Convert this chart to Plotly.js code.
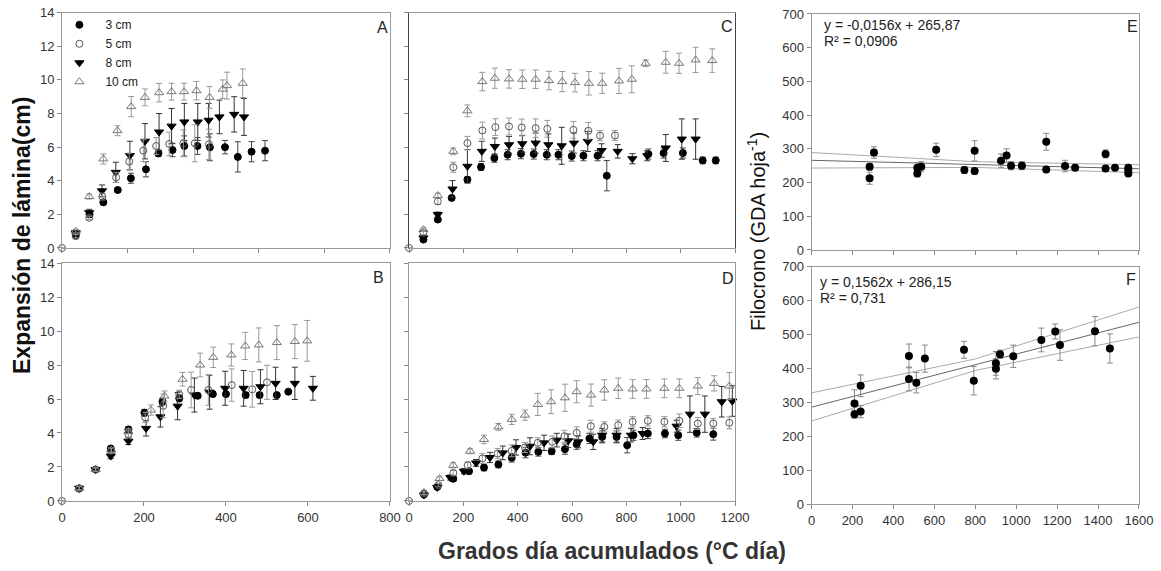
<!DOCTYPE html>
<html><head><meta charset="utf-8">
<script src="https://cdn.plot.ly/plotly-3.0.1.min.js"></script>
<style>html,body{margin:0;padding:0;background:#fff}#chart{width:1161px;height:571px}</style>
</head><body><div id="chart"></div>
<script>
// ---------- Panel A ----------
const A_x3=[42,84,126,170,210,256,294,337,373,413,451,497,536,578,619];
const A_y3=[0.77,2.0,2.72,3.45,4.15,4.68,5.63,5.83,6.07,6.07,5.99,6.0,5.42,5.73,5.79];
const A_e3=[0.1,0.15,0.15,0.15,0.3,0.45,0.2,0.4,0.6,0.5,0.8,0.4,0.9,0.6,0.6];
const A_x5=[0,42,83,123,165,205,248,287,327,370,405,448];
const A_y5=[0,0.7,1.8,3.06,4.2,5.14,5.79,6.07,6.19,6.23,6.23,6.17];
const A_e5=[0,0.1,0.1,0.2,0.3,0.5,0.65,0.5,0.7,0.8,1.1,0.9];
const A_x8=[42,83,122,164,207,253,296,334,373,414,447,480,525,555];
const A_y8=[0.9,2.1,3.4,4.5,5.5,6.35,6.9,7.25,7.5,7.5,7.6,7.8,7.95,7.8];
const A_e8=[0.1,0.2,0.35,0.6,0.85,1.05,1.1,1.05,1.1,1.1,1.0,1.0,1.05,1.1];
const A_x10=[42,83,126,169,211,253,296,334,372,410,450,490,503,551];
const A_y10=[1.0,3.06,5.3,6.98,8.41,8.96,9.24,9.3,9.3,9.36,8.96,9.45,9.66,9.8];
const A_e10=[0.1,0.15,0.3,0.3,0.6,0.5,0.55,0.5,0.5,0.55,0.65,0.55,0.8,0.85];
// ---------- Panel B ----------
const B_x3=[42,82,119,162,201,245,286,331,368,400,448,482,524,552];
const B_y3=[0.73,1.85,3.09,4.21,5.19,5.84,6.04,6.19,6.29,6.29,6.23,6.23,6.23,6.43];
const B_e3=[0.1,0.1,0.12,0.15,0.2,0.2,0.2,0.15,0.15,0.15,0.15,0.15,0.15,0.1];
const B_x5=[0,42,82,120,162,203,247,286,315,357,414,464,500];
const B_y5=[0,0.75,1.85,2.95,3.93,4.92,5.6,6.27,6.53,6.53,6.82,6.57,6.98];
const B_e5=[0,0.1,0.1,0.15,0.2,0.3,0.7,0.25,1.05,0.9,0.95,1.05,1.0];
const B_x8=[42,82,119,162,205,240,282,323,360,398,443,484,521,568,612];
const B_y8=[0.75,1.85,2.64,3.52,4.27,4.95,5.58,6.23,6.4,6.63,6.63,6.72,6.92,6.92,6.63];
const B_e8=[0.1,0.1,0.15,0.2,0.45,0.6,0.8,1.0,1.0,1.0,1.05,1.0,0.95,0.95,0.7];
const B_x10=[42,82,120,162,217,250,294,337,369,413,447,480,524,568,598];
const B_y10=[0.75,1.85,3.0,4.1,5.35,6.17,7.16,8.0,8.45,8.59,9.12,9.18,9.32,9.38,9.42];
const B_e10=[0.1,0.1,0.15,0.15,0.3,0.3,0.4,0.7,0.6,0.65,0.8,1.0,1.0,1.0,1.2];
// ---------- Panel C ----------
const C_x3=[53,106,157,215,265,314,363,412,459,507,550,599,642,694,728,881,937,1008,1081,1129];
const C_y3=[0.5,1.69,2.98,4.07,4.82,5.35,5.55,5.61,5.59,5.55,5.55,5.47,5.49,5.49,4.3,5.59,5.65,5.65,5.21,5.21];
const C_e3=[0.1,0.1,0.1,0.15,0.2,0.25,0.3,0.3,0.3,0.3,0.3,0.3,0.3,0.3,0.9,0.3,0.3,0.3,0.2,0.2];
const C_x5=[0,53,106,163,215,270,318,368,415,466,509,605,660,703,758];
const C_y5=[0,0.9,2.78,4.8,6.24,6.99,7.19,7.23,7.17,7.13,7.09,7.03,6.97,6.68,6.69];
const C_e5=[0,0.1,0.2,0.3,0.4,0.5,0.5,0.5,0.5,0.55,0.5,0.5,0.5,0.3,0.3];
const C_x8=[53,106,160,215,268,316,368,417,466,513,562,607,658,709,768,822,877,945,1004,1055];
const C_y8=[0.6,1.99,3.51,4.86,5.75,6.04,6.14,6.2,6.24,6.14,6.08,6.24,6.34,5.8,5.75,5.31,5.49,5.95,6.48,6.48];
const C_e8=[0.1,0.15,0.5,1.0,0.6,0.5,0.5,0.5,0.6,0.65,1.1,0.6,0.6,0.4,0.4,0.3,0.3,0.8,1.2,1.2];
const C_x10=[53,106,163,215,270,316,368,417,466,515,564,611,662,711,773,820,871,945,994,1055,1116];
const C_y10=[1.1,3.12,5.75,8.16,9.9,10.1,10.06,10.04,10.04,9.96,9.9,9.84,9.8,9.8,9.94,10.04,10.99,11.05,10.99,11.19,11.15];
const C_e10=[0.1,0.15,0.2,0.35,0.55,0.6,0.55,0.55,0.55,0.55,0.6,0.55,0.7,0.6,0.75,0.8,0.2,0.65,0.6,0.75,0.7];
// ---------- Panel D ----------
const D_x3=[55,104,163,221,276,329,378,429,476,525,574,617,664,711,764,803,826,879,942,991,1059,1120];
const D_y3=[0.38,0.83,1.31,1.75,1.97,2.15,2.54,2.84,2.89,2.93,3.05,3.34,3.68,3.77,3.77,3.28,3.87,3.97,3.97,3.87,4.01,3.93];
const D_e3=[0.1,0.1,0.15,0.15,0.2,0.2,0.25,0.3,0.25,0.2,0.3,0.3,0.3,0.35,0.35,0.45,0.3,0.3,0.25,0.3,0.25,0.35];
const D_x5=[0,55,108,163,216,270,326,378,427,474,527,572,617,669,719,770,823,879,940,995,1063,1120,1179];
const D_y5=[0,0.45,0.93,1.65,2.1,2.5,2.79,2.95,3.15,3.42,3.48,3.81,4.01,4.4,4.36,4.46,4.66,4.72,4.66,4.72,4.56,4.56,4.6];
const D_e5=[0,0.1,0.1,0.15,0.2,0.3,0.3,0.35,0.3,0.3,0.35,0.35,0.35,0.35,0.3,0.3,0.3,0.3,0.3,0.4,0.35,0.3,0.35];
const D_x8=[55,104,152,202,247,298,345,394,445,497,544,586,623,678,711,764,817,860,985,1034,1089,1151,1190];
const D_y8=[0.35,0.8,1.38,1.75,2.24,2.56,2.83,3.15,3.22,3.42,3.58,3.54,3.48,3.48,3.87,3.87,3.87,3.97,4.4,5.11,5.11,5.84,5.88];
const D_e8=[0.1,0.1,0.15,0.15,0.2,0.3,0.4,0.45,0.5,0.45,0.4,0.4,0.35,0.45,0.4,0.4,0.4,0.35,0.35,1.07,1.07,0.9,0.9];
const D_x10=[55,112,163,225,276,329,378,427,474,523,574,617,670,719,770,823,874,940,995,1063,1123,1179];
const D_y10=[0.5,1.32,2.1,2.93,3.62,4.36,4.8,5.05,5.68,5.84,6.07,6.43,6.23,6.53,6.63,6.59,6.59,6.63,6.63,6.76,6.92,6.76];
const D_e10=[0.1,0.1,0.15,0.15,0.25,0.2,0.3,0.3,0.65,0.7,0.8,0.65,0.65,0.6,0.6,0.55,0.55,0.55,0.55,0.5,0.45,0.8];
// ---------- Panel E ----------
const E_x=[284,284,305,517,517,536,609,747,797,797,926,953,975,1028,1147,1147,1239,1288,1437,1437,1483,1548,1548,1548];
const E_y=[247,213,289,227,244,247,297,237,294,234,265,280,250,250,321,239,249,244,285,242,244,244,227,235];
const E_e=[10,18,17,10,15,15,20,10,30,10,20,20,12,12,25,8,17,8,12,8,8,10,8,10];
const E_lineX=[0,1600], E_fit=[266,241];
const E_bandX=[0,800,1600], E_up=[289,262,253], E_lo=[243,245,229];
// ---------- Panel F ----------
const F_x=[210,210,240,240,476,476,512,554,745,793,901,901,921,986,1123,1191,1214,1385,1458];
const F_y=[297,265,349,273,437,369,358,429,455,364,415,399,442,436,484,509,469,510,459];
const F_e=[40,12,32,18,35,35,30,40,25,42,35,30,12,33,35,22,45,43,43];
const F_lineX=[0,1600], F_fit=[286,536];
const F_bandX=[0,800,1600], F_up=[328,428,581], F_lo=[245,394,493];

const seriesNames=['3 cm','5 cm','8 cm','10 cm'];
const FONT='Liberation Sans, Arial, sans-serif';

const styles={
  '3 cm':{symbol:'circle',size:7,color:'#000',line:{color:'#000',width:1},err:'#444'},
  '5 cm':{symbol:'circle-open',size:7,color:'#555',line:{color:'#555',width:1},err:'#999'},
  '8 cm':{symbol:'triangle-down',size:8,color:'#000',line:{color:'#000',width:1},err:'#333'},
  '10 cm':{symbol:'triangle-up-open',size:8,color:'#777',line:{color:'#777',width:1},err:'#999'}
};
function ser(name,x,y,e,ax,leg){
  const s=styles[name];
  return {type:'scatter',mode:'markers',name:name,x:x,y:y,xaxis:'x'+ax,yaxis:'y'+ax,
    showlegend:leg,cliponaxis:false,
    marker:{symbol:s.symbol,size:s.size,color:s.color,line:s.line},
    error_y:{type:'data',array:e,visible:true,color:s.err,thickness:1,width:3}};
}
const data=[];
const panels=[
 [A_x3,A_y3,A_e3,A_x5,A_y5,A_e5,A_x8,A_y8,A_e8,A_x10,A_y10,A_e10,''],
 [B_x3,B_y3,B_e3,B_x5,B_y5,B_e5,B_x8,B_y8,B_e8,B_x10,B_y10,B_e10,'2'],
 [C_x3,C_y3,C_e3,C_x5,C_y5,C_e5,C_x8,C_y8,C_e8,C_x10,C_y10,C_e10,'3'],
 [D_x3,D_y3,D_e3,D_x5,D_y5,D_e5,D_x8,D_y8,D_e8,D_x10,D_y10,D_e10,'4']
];
panels.forEach((p,i)=>{
  const leg=(i===0);
  data.push(ser('3 cm',p[0],p[1],p[2],p[12],leg));
  data.push(ser('8 cm',p[6],p[7],p[8],p[12],leg));
  data.push(ser('10 cm',p[9],p[10],p[11],p[12],leg));
  data.push(ser('5 cm',p[3],p[4],p[5],p[12],leg));
});
data.forEach(t=>{t.legendrank=seriesNames.indexOf(t.name)+1;});

function fitTraces(ax,lx,ly,bx,bu,bl,xs,ys,es){
  return [
    {type:'scatter',mode:'lines',x:bx,y:bu,xaxis:'x'+ax,yaxis:'y'+ax,showlegend:false,line:{color:'#aaa',width:1}},
    {type:'scatter',mode:'lines',x:bx,y:bl,xaxis:'x'+ax,yaxis:'y'+ax,showlegend:false,line:{color:'#aaa',width:1}},
    {type:'scatter',mode:'lines',x:lx,y:ly,xaxis:'x'+ax,yaxis:'y'+ax,showlegend:false,line:{color:'#666',width:1}},
    {type:'scatter',mode:'markers',x:xs,y:ys,xaxis:'x'+ax,yaxis:'y'+ax,showlegend:false,
     marker:{symbol:'circle',size:8,color:'#000'},
     error_y:{type:'data',array:es,visible:true,color:'#888',thickness:1,width:3}}
  ];
}
data.push(...fitTraces('5',E_lineX,E_fit,E_bandX,E_up,E_lo,E_x,E_y,E_e));
data.push(...fitTraces('6',F_lineX,F_fit,F_bandX,F_up,F_lo,F_x,F_y,F_e));

const tickFont={family:FONT,size:13,color:'#333'};
function xa(dom,range,labels,anchor){
  return {domain:dom,range:range,dtick:200,tick0:0,showticklabels:labels,anchor:anchor,
    showline:true,mirror:true,linecolor:'#999',linewidth:1,ticks:'outside',ticklen:4,tickcolor:'#888',
    showgrid:false,zeroline:false,tickfont:tickFont,fixedrange:true};
}
function ya(dom,range,dtick,labels,anchor,lc){
  return {domain:dom,range:range,dtick:dtick,tick0:0,showticklabels:labels,anchor:anchor,
    showline:true,mirror:true,linecolor:lc||'#999',linewidth:1,ticks:'outside',ticklen:4,tickcolor:'#888',
    showgrid:false,zeroline:false,tickfont:tickFont,fixedrange:true};
}
const colL=[0.0534,0.3359], colM=[0.3523,0.6331], colR=[0.699,0.981];
const rowT=[0.5657,0.9778], rowB=[0.1226,0.5394];
const rowTE=[0.5622,0.9755], rowBF=[0.117,0.533];

const ann=(t,x,y,o)=>Object.assign({text:t,x:x,y:y,xref:'paper',yref:'paper',showarrow:false,
  font:{family:FONT,size:16,color:'#222'}},o||{});
const layout={
  width:1161,height:571,margin:{l:0,r:0,t:0,b:0},paper_bgcolor:'#fff',plot_bgcolor:'#fff',
  font:{family:FONT,color:'#222'},
  xaxis:xa(colL,[0,1000],false,'y'), yaxis:ya(rowT,[0,14],2,true,'x'),
  xaxis2:xa(colL,[0,800],true,'y2'), yaxis2:ya(rowB,[0,14],2,true,'x2'),
  xaxis3:xa(colM,[0,1200],false,'y3'), yaxis3:ya(rowT,[0,14],2,false,'x3','#444'),
  xaxis4:xa(colM,[0,1200],true,'y4'), yaxis4:ya(rowB,[0,14],2,false,'x4','#999'),
  xaxis5:xa(colR,[0,1600],false,'y5'), yaxis5:ya(rowTE,[0,700],100,true,'x5'),
  xaxis6:xa(colR,[0,1600],true,'y6'), yaxis6:ya(rowBF,[0,700],100,true,'x6'),
  legend:{x:0.046,y:0.982,xanchor:'left',yanchor:'top',bgcolor:'rgba(0,0,0,0)',itemwidth:42,
    font:{family:FONT,size:12,color:'#222'},tracegroupgap:0,itemclick:false},
  annotations:[
    ann('A',382/1161,1-28/571,{xanchor:'center',yanchor:'middle'}),
    ann('B',378/1161,1-277/571,{xanchor:'center',yanchor:'middle'}),
    ann('C',727/1161,1-26/571,{xanchor:'center',yanchor:'middle'}),
    ann('D',728/1161,1-278/571,{xanchor:'center',yanchor:'middle'}),
    ann('E',1132/1161,1-26/571,{xanchor:'center',yanchor:'middle'}),
    ann('F',1131/1161,1-280/571,{xanchor:'center',yanchor:'middle'}),
    ann('y = -0,0156x + 265,87',822/1161,1-25/571,{xanchor:'left',yanchor:'middle',font:{family:FONT,size:14,color:'#222'}}),
    ann('R² = 0,0906',822/1161,1-41/571,{xanchor:'left',yanchor:'middle',font:{family:FONT,size:14,color:'#222'}}),
    ann('y = 0,1562x + 286,15',818/1161,1-282/571,{xanchor:'left',yanchor:'middle',font:{family:FONT,size:14,color:'#222'}}),
    ann('R² = 0,731',818/1161,1-298/571,{xanchor:'left',yanchor:'middle',font:{family:FONT,size:14,color:'#222'}}),
    ann('<b>Expansión de lámina(cm)</b>',22/1161,1-236/571,{textangle:-90,xanchor:'center',yanchor:'middle',font:{family:FONT,size:23,color:'#111'}}),
    ann('Filocrono (GDA hoja<sup>-1</sup>)',756/1161,1-232/571,{textangle:-90,xanchor:'center',yanchor:'middle',font:{family:FONT,size:20,color:'#111'}}),
    ann('<b>Grados día acumulados (°C día)</b>',612/1161,1-551/571,{xanchor:'center',yanchor:'middle',font:{family:FONT,size:23,color:'#333'}})
  ]
};
Plotly.newPlot('chart',data,layout,{displayModeBar:false,staticPlot:true});
</script></body></html>
